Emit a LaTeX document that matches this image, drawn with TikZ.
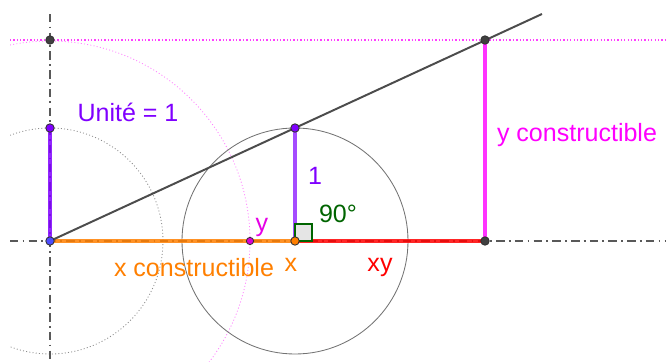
\documentclass[tikz,border=0pt]{standalone}
\usepackage{fontspec}
\setmainfont{Liberation Sans}
\usetikzlibrary{positioning, calc}
\definecolor{unitviolet}{HTML}{7F00FF}
\definecolor{xorange}{HTML}{FF7F00}
\definecolor{ymagenta}{HTML}{FF00FF}
\definecolor{xyred}{HTML}{FF0000}
\definecolor{anglegreen}{HTML}{006400}
\definecolor{ptblue}{HTML}{4D4DFF}
\tikzset{
	bigtext/.style={font=\fontsize{17.8}{20}\selectfont, inner sep=0pt}
}
\tikzset{
	axisline/.style={line width=1.1pt, color=black!65, dash pattern=on 6pt off 3pt on 1.3pt off 3pt},
	seg/.style={line width=2.2pt, opacity=0.85},
	ptdot/.style={draw=black!80, line width=0.6pt},
	finedots/.style={line width=0.6pt, dash pattern=on 0.7pt off 1.6pt}
}
\begin{document}
\begin{tikzpicture}[x=0.025cm, y=-0.025cm]
      \useasboundingbox (0,0) rectangle (666,362);
      \coordinate (O) at (50,241);
      \coordinate (U) at (50,128);
      \coordinate (X) at (295,241);
      \coordinate (T) at (295,128);
      \coordinate (Y) at (250,241);
      \coordinate (P) at (485,241);
      \coordinate (Q) at (485,40);
      \coordinate (H) at (50,40);
      \coordinate (L) at (542,14);
      \begin{scope}
        \clip (10,14) rectangle (666,362);
        \draw[finedots, black!45] (O) circle (113);
        \draw[finedots, ymagenta!50] (O) circle (200);
        \draw[line width=0.6pt, black!55] (X) circle (113);
        \draw[line width=0.9pt, ymagenta!75, dash pattern=on 0.9pt off 1.5pt] (10,40) -- (666,40);
        \draw[axisline] (10,241) -- (666,241);
        \draw[axisline] (50,14) -- (50,362);
      \end{scope}
      \draw[seg, unitviolet] (O) -- (U);
      \draw[seg, xorange] (O) -- (X);
      \draw[seg, xyred] (X) -- (P);
      \draw[seg, unitviolet, opacity=0.7] (X) -- (T);
      \draw[seg, ymagenta, opacity=0.8] (P) -- (Q);
      \draw[line width=1.4pt, black!70] (O) -- (L);
      % right angle at x
      \draw[anglegreen, fill=gray!20, line width=0.8pt] (X) rectangle ++(17,-17);
      \filldraw[ptdot, fill=black!75] (H) circle (3pt);
      \filldraw[ptdot, fill=black!75] (Q) circle (3pt);
      \filldraw[ptdot, fill=black!75] (P) circle (3pt);
      \filldraw[ptdot, fill=unitviolet] (U) circle (3pt);
      \filldraw[ptdot, fill=unitviolet] (T) circle (3pt);
      \filldraw[ptdot, fill=ymagenta!85!black] (Y) circle (2.6pt);
      \filldraw[ptdot, fill=xorange] (X) circle (3pt);
      \filldraw[ptdot, fill=ptblue] (O) circle (3pt);
      \node[bigtext, text=unitviolet] (unite) at (128,112) {Unité = 1};
      \node[bigtext, text=unitviolet] (one) at (315,176) {1};
      \node[bigtext, text=anglegreen] (angle) at (338,214) {90°};
      \node[bigtext, text=ymagenta!90!black] (ylab) at (262,227) {y};
      \node[bigtext, text=xorange] (xcons) at (194,268) {x constructible};
      \node[bigtext, text=xorange] (xlab) at (291,265) {x};
      \node[bigtext, text=xyred] (xylab) at (380,267) {xy};
      \node[bigtext, text=ymagenta] (ycons) at (577,135) {y constructible};
    \end{tikzpicture}
\end{document}
